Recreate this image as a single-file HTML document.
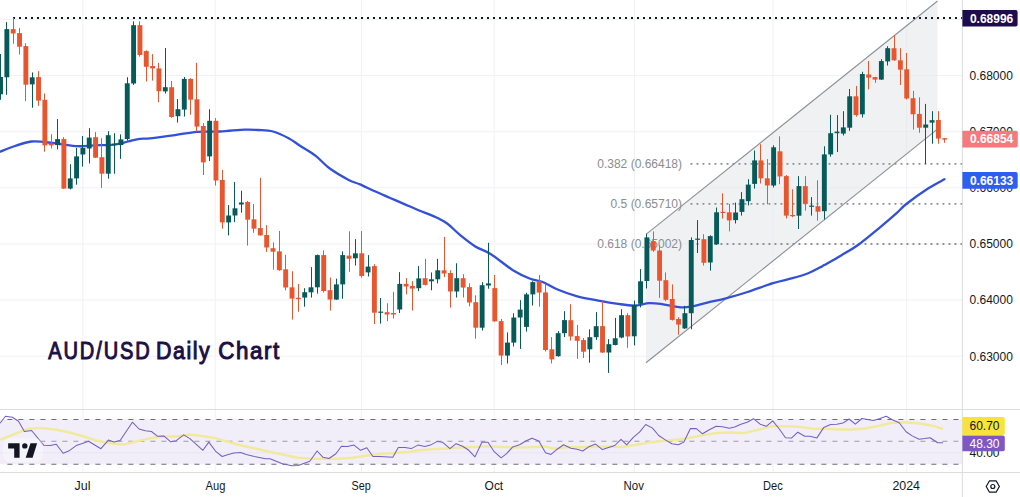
<!DOCTYPE html>
<html><head><meta charset="utf-8"><style>html,body{margin:0;padding:0;background:#fff;}body{width:1020px;height:497px;overflow:hidden;font-family:"Liberation Sans",sans-serif;}svg{display:block;}</style></head><body>
<svg width="1020" height="497" viewBox="0 0 1020 497">
<rect x="0" y="0" width="1020" height="497" fill="#ffffff"/>
<line x1="82.9" y1="0" x2="82.9" y2="472.5" stroke="#f0f1f4" stroke-width="1"/>
<line x1="215.2" y1="0" x2="215.2" y2="472.5" stroke="#f0f1f4" stroke-width="1"/>
<line x1="361.4" y1="0" x2="361.4" y2="472.5" stroke="#f0f1f4" stroke-width="1"/>
<line x1="494.2" y1="0" x2="494.2" y2="472.5" stroke="#f0f1f4" stroke-width="1"/>
<line x1="634.4" y1="0" x2="634.4" y2="472.5" stroke="#f0f1f4" stroke-width="1"/>
<line x1="773.0" y1="0" x2="773.0" y2="472.5" stroke="#f0f1f4" stroke-width="1"/>
<line x1="906.7" y1="0" x2="906.7" y2="472.5" stroke="#f0f1f4" stroke-width="1"/>
<line x1="0" y1="19.48" x2="962.4" y2="19.48" stroke="#f0f1f4" stroke-width="1"/>
<line x1="0" y1="75.60" x2="962.4" y2="75.60" stroke="#f0f1f4" stroke-width="1"/>
<line x1="0" y1="131.72" x2="962.4" y2="131.72" stroke="#f0f1f4" stroke-width="1"/>
<line x1="0" y1="187.84" x2="962.4" y2="187.84" stroke="#f0f1f4" stroke-width="1"/>
<line x1="0" y1="243.96" x2="962.4" y2="243.96" stroke="#f0f1f4" stroke-width="1"/>
<line x1="0" y1="300.08" x2="962.4" y2="300.08" stroke="#f0f1f4" stroke-width="1"/>
<line x1="0" y1="356.20" x2="962.4" y2="356.20" stroke="#f0f1f4" stroke-width="1"/>
<polygon points="646.0,234.40 937.5,1.05 937.5,129.11 646.0,362.72" fill="#e2e4e8" fill-opacity="0.5"/>
<line x1="646.0" y1="234.40" x2="937.5" y2="1.05" stroke="#8c8f96" stroke-width="1.1"/>
<line x1="646.0" y1="362.72" x2="937.5" y2="129.11" stroke="#8c8f96" stroke-width="1.1"/>
<text x="682" y="168.2" font-family="Liberation Sans, sans-serif" font-size="12" fill="#8a8d94" text-anchor="end">0.382 (0.66418)</text>
<text x="682" y="208.2" font-family="Liberation Sans, sans-serif" font-size="12" fill="#8a8d94" text-anchor="end">0.5 (0.65710)</text>
<text x="682" y="248.3" font-family="Liberation Sans, sans-serif" font-size="12" fill="#8a8d94" text-anchor="end">0.618 (0.65002)</text>
<line x1="13.0" y1="18.0" x2="962.4" y2="18.0" stroke="#131722" stroke-width="2.0" stroke-dasharray="2.0 4.0"/>
<line x1="690.5" y1="163.9" x2="962.4" y2="163.9" stroke="#8d9099" stroke-width="1.9" stroke-dasharray="1.9 4.1"/>
<line x1="690.5" y1="203.9" x2="962.4" y2="203.9" stroke="#8d9099" stroke-width="1.9" stroke-dasharray="1.9 4.1"/>
<line x1="690.5" y1="244.0" x2="962.4" y2="244.0" stroke="#8d9099" stroke-width="1.9" stroke-dasharray="1.9 4.1"/>
<path d="M0.00,151.70 C2.50,150.75 9.77,147.70 15.00,146.00 C20.23,144.30 26.57,142.17 31.40,141.50 C36.23,140.83 39.23,141.58 44.00,142.00 C48.77,142.42 54.33,143.30 60.00,144.00 C65.67,144.70 72.33,145.97 78.00,146.20 C83.67,146.43 88.00,145.67 94.00,145.40 C100.00,145.13 108.33,145.25 114.00,144.60 C119.67,143.95 123.67,142.47 128.00,141.50 C132.33,140.53 136.33,139.33 140.00,138.80 C143.67,138.27 144.17,138.92 150.00,138.30 C155.83,137.68 167.17,136.18 175.00,135.10 C182.83,134.02 189.50,132.40 197.00,131.80 C204.50,131.20 212.00,131.87 220.00,131.50 C228.00,131.13 238.67,129.85 245.00,129.60 C251.33,129.35 253.33,129.68 258.00,130.00 C262.67,130.32 267.90,130.13 273.00,131.50 C278.10,132.87 284.10,135.83 288.60,138.20 C293.10,140.57 295.48,142.75 300.00,145.70 C304.52,148.65 310.73,152.10 315.70,155.90 C320.67,159.70 324.30,164.50 329.80,168.50 C335.30,172.50 343.67,177.25 348.70,179.90 C353.73,182.55 355.65,182.50 360.00,184.40 C364.35,186.30 369.87,189.08 374.80,191.30 C379.73,193.52 384.67,195.57 389.60,197.70 C394.53,199.83 399.47,201.97 404.40,204.10 C409.33,206.23 414.27,208.45 419.20,210.50 C424.13,212.55 429.40,214.27 434.00,216.40 C438.60,218.53 442.53,220.27 446.80,223.30 C451.07,226.33 454.85,230.75 459.60,234.60 C464.35,238.45 470.07,243.13 475.30,246.40 C480.53,249.67 484.80,250.28 491.00,254.20 C497.20,258.12 505.97,265.82 512.50,269.90 C519.03,273.98 525.28,276.73 530.20,278.70 C535.12,280.67 537.43,279.90 542.00,281.70 C546.57,283.50 551.72,287.05 557.60,289.50 C563.48,291.95 570.75,294.60 577.30,296.40 C583.85,298.20 590.37,299.10 596.90,300.30 C603.43,301.50 610.30,302.72 616.50,303.60 C622.70,304.48 628.62,305.68 634.10,305.60 C639.58,305.52 644.57,303.32 649.40,303.10 C654.23,302.88 658.20,303.63 663.10,304.30 C668.00,304.97 674.22,306.70 678.80,307.10 C683.38,307.50 685.70,307.48 690.60,306.70 C695.50,305.92 702.32,303.78 708.20,302.40 C714.08,301.02 719.35,300.13 725.90,298.40 C732.45,296.67 739.65,294.55 747.50,292.00 C755.35,289.45 765.50,285.40 773.00,283.10 C780.50,280.80 786.63,279.83 792.50,278.20 C798.37,276.57 803.65,275.08 808.20,273.30 C812.75,271.52 817.13,268.87 819.80,267.50 C822.47,266.13 820.65,267.12 824.20,265.10 C827.75,263.08 835.47,258.75 841.10,255.40 C846.73,252.05 851.57,249.63 858.00,245.00 C864.43,240.37 873.27,232.92 879.70,227.60 C886.13,222.28 892.17,217.03 896.60,213.10 C901.03,209.17 901.07,208.10 906.30,204.00 C911.53,199.90 921.65,192.62 928.00,188.50 C934.35,184.38 941.67,180.83 944.40,179.30" fill="none" stroke="#3350d8" stroke-width="2.3" stroke-linejoin="round" stroke-linecap="round"/>
<rect x="0" y="54.00" width="1" height="45.80" fill="#075a5a"/>
<rect x="-1.93" y="77.00" width="4.9" height="17.30" fill="#075a5a"/>
<rect x="6" y="22.10" width="1" height="72.70" fill="#075a5a"/>
<rect x="4.41" y="29.10" width="4.9" height="48.20" fill="#075a5a"/>
<rect x="13" y="17.80" width="1" height="25.90" fill="#e8562f"/>
<rect x="10.74" y="29.10" width="4.9" height="4.40" fill="#e8562f"/>
<rect x="19" y="27.90" width="1" height="26.70" fill="#e8562f"/>
<rect x="17.08" y="33.10" width="4.9" height="13.60" fill="#e8562f"/>
<rect x="25" y="43.30" width="1" height="57.80" fill="#e8562f"/>
<rect x="23.42" y="46.10" width="4.9" height="38.60" fill="#e8562f"/>
<rect x="32" y="72.40" width="1" height="35.30" fill="#075a5a"/>
<rect x="29.75" y="77.30" width="4.9" height="7.10" fill="#075a5a"/>
<rect x="38" y="71.20" width="1" height="34.60" fill="#e8562f"/>
<rect x="36.09" y="77.10" width="4.9" height="23.50" fill="#e8562f"/>
<rect x="44" y="93.50" width="1" height="58.20" fill="#e8562f"/>
<rect x="42.43" y="99.80" width="4.9" height="45.60" fill="#e8562f"/>
<rect x="51" y="134.20" width="1" height="14.30" fill="#e8562f"/>
<rect x="48.77" y="143.50" width="4.9" height="1.90" fill="#e8562f"/>
<rect x="57" y="119.00" width="1" height="30.30" fill="#075a5a"/>
<rect x="55.10" y="139.10" width="4.9" height="6.00" fill="#075a5a"/>
<rect x="63" y="137.20" width="1" height="51.80" fill="#e8562f"/>
<rect x="61.44" y="139.10" width="4.9" height="49.50" fill="#e8562f"/>
<rect x="70" y="164.20" width="1" height="25.20" fill="#075a5a"/>
<rect x="67.78" y="178.40" width="4.9" height="10.20" fill="#075a5a"/>
<rect x="76" y="147.80" width="1" height="36.90" fill="#075a5a"/>
<rect x="74.11" y="156.40" width="4.9" height="22.00" fill="#075a5a"/>
<rect x="82" y="136.00" width="1" height="30.60" fill="#075a5a"/>
<rect x="80.45" y="147.80" width="4.9" height="6.70" fill="#075a5a"/>
<rect x="89" y="128.10" width="1" height="35.40" fill="#075a5a"/>
<rect x="86.79" y="137.60" width="4.9" height="10.90" fill="#075a5a"/>
<rect x="95" y="132.10" width="1" height="25.90" fill="#e8562f"/>
<rect x="93.12" y="137.20" width="4.9" height="20.50" fill="#e8562f"/>
<rect x="101" y="138.30" width="1" height="49.50" fill="#e8562f"/>
<rect x="99.46" y="157.20" width="4.9" height="16.50" fill="#e8562f"/>
<rect x="108" y="131.30" width="1" height="47.40" fill="#075a5a"/>
<rect x="105.80" y="135.20" width="4.9" height="38.50" fill="#075a5a"/>
<rect x="114" y="133.20" width="1" height="40.50" fill="#075a5a"/>
<rect x="112.14" y="143.80" width="4.9" height="1.30" fill="#075a5a"/>
<rect x="120" y="134.40" width="1" height="24.40" fill="#075a5a"/>
<rect x="118.47" y="139.40" width="4.9" height="5.70" fill="#075a5a"/>
<rect x="127" y="77.20" width="1" height="63.50" fill="#075a5a"/>
<rect x="124.81" y="83.30" width="4.9" height="55.70" fill="#075a5a"/>
<rect x="133" y="21.30" width="1" height="63.60" fill="#075a5a"/>
<rect x="131.15" y="25.20" width="4.9" height="58.30" fill="#075a5a"/>
<rect x="139" y="21.30" width="1" height="35.30" fill="#e8562f"/>
<rect x="137.48" y="25.20" width="4.9" height="29.80" fill="#e8562f"/>
<rect x="146" y="50.30" width="1" height="31.20" fill="#e8562f"/>
<rect x="143.82" y="51.10" width="4.9" height="15.70" fill="#e8562f"/>
<rect x="152" y="54.20" width="1" height="26.40" fill="#e8562f"/>
<rect x="150.16" y="66.00" width="4.9" height="2.40" fill="#e8562f"/>
<rect x="158" y="62.90" width="1" height="39.30" fill="#e8562f"/>
<rect x="156.49" y="68.40" width="4.9" height="22.80" fill="#e8562f"/>
<rect x="165" y="48.00" width="1" height="45.50" fill="#075a5a"/>
<rect x="162.83" y="87.20" width="4.9" height="4.20" fill="#075a5a"/>
<rect x="171" y="80.90" width="1" height="36.90" fill="#e8562f"/>
<rect x="169.17" y="87.20" width="4.9" height="29.80" fill="#e8562f"/>
<rect x="177" y="99.00" width="1" height="23.50" fill="#075a5a"/>
<rect x="175.50" y="109.20" width="4.9" height="7.00" fill="#075a5a"/>
<rect x="184" y="77.00" width="1" height="39.50" fill="#075a5a"/>
<rect x="181.84" y="78.90" width="4.9" height="30.70" fill="#075a5a"/>
<rect x="190" y="78.20" width="1" height="36.50" fill="#e8562f"/>
<rect x="188.18" y="78.90" width="4.9" height="20.80" fill="#e8562f"/>
<rect x="196" y="62.80" width="1" height="69.00" fill="#e8562f"/>
<rect x="194.52" y="99.30" width="4.9" height="27.30" fill="#e8562f"/>
<rect x="203" y="123.10" width="1" height="51.90" fill="#e8562f"/>
<rect x="200.85" y="126.00" width="4.9" height="36.40" fill="#e8562f"/>
<rect x="209" y="109.20" width="1" height="51.90" fill="#075a5a"/>
<rect x="207.19" y="120.80" width="4.9" height="35.60" fill="#075a5a"/>
<rect x="215" y="118.10" width="1" height="67.40" fill="#e8562f"/>
<rect x="213.53" y="120.80" width="4.9" height="59.70" fill="#e8562f"/>
<rect x="222" y="169.90" width="1" height="58.80" fill="#e8562f"/>
<rect x="219.86" y="180.00" width="4.9" height="42.40" fill="#e8562f"/>
<rect x="228" y="205.10" width="1" height="30.30" fill="#075a5a"/>
<rect x="226.20" y="215.50" width="4.9" height="6.90" fill="#075a5a"/>
<rect x="234" y="182.10" width="1" height="40.00" fill="#075a5a"/>
<rect x="232.54" y="208.30" width="4.9" height="7.20" fill="#075a5a"/>
<rect x="241" y="190.70" width="1" height="22.00" fill="#075a5a"/>
<rect x="238.88" y="202.50" width="4.9" height="2.00" fill="#075a5a"/>
<rect x="247" y="200.90" width="1" height="44.70" fill="#e8562f"/>
<rect x="245.21" y="202.00" width="4.9" height="17.70" fill="#e8562f"/>
<rect x="253" y="204.00" width="1" height="28.80" fill="#e8562f"/>
<rect x="251.55" y="219.30" width="4.9" height="9.40" fill="#e8562f"/>
<rect x="260" y="177.80" width="1" height="57.80" fill="#e8562f"/>
<rect x="257.89" y="228.10" width="4.9" height="7.30" fill="#e8562f"/>
<rect x="266" y="225.20" width="1" height="26.70" fill="#e8562f"/>
<rect x="264.22" y="235.00" width="4.9" height="12.50" fill="#e8562f"/>
<rect x="273" y="242.30" width="1" height="27.40" fill="#e8562f"/>
<rect x="270.56" y="248.20" width="4.9" height="3.50" fill="#e8562f"/>
<rect x="279" y="231.00" width="1" height="39.80" fill="#e8562f"/>
<rect x="276.90" y="251.40" width="4.9" height="18.80" fill="#e8562f"/>
<rect x="285" y="254.80" width="1" height="35.60" fill="#e8562f"/>
<rect x="283.23" y="269.30" width="4.9" height="18.20" fill="#e8562f"/>
<rect x="292" y="271.30" width="1" height="48.30" fill="#e8562f"/>
<rect x="289.57" y="287.30" width="4.9" height="11.30" fill="#e8562f"/>
<rect x="298" y="284.00" width="1" height="27.70" fill="#e8562f"/>
<rect x="295.91" y="297.80" width="4.9" height="1.40" fill="#e8562f"/>
<rect x="304" y="288.20" width="1" height="18.50" fill="#075a5a"/>
<rect x="302.25" y="292.20" width="4.9" height="5.40" fill="#075a5a"/>
<rect x="311" y="267.10" width="1" height="30.50" fill="#075a5a"/>
<rect x="308.58" y="287.30" width="4.9" height="5.00" fill="#075a5a"/>
<rect x="317" y="254.50" width="1" height="39.10" fill="#075a5a"/>
<rect x="314.92" y="255.10" width="4.9" height="32.20" fill="#075a5a"/>
<rect x="323" y="250.40" width="1" height="42.20" fill="#e8562f"/>
<rect x="321.26" y="255.10" width="4.9" height="35.90" fill="#e8562f"/>
<rect x="330" y="277.60" width="1" height="33.00" fill="#e8562f"/>
<rect x="327.59" y="290.20" width="4.9" height="9.40" fill="#e8562f"/>
<rect x="336" y="278.70" width="1" height="21.10" fill="#075a5a"/>
<rect x="333.93" y="284.40" width="4.9" height="15.20" fill="#075a5a"/>
<rect x="342" y="251.40" width="1" height="47.30" fill="#075a5a"/>
<rect x="340.27" y="255.10" width="4.9" height="29.30" fill="#075a5a"/>
<rect x="349" y="231.30" width="1" height="40.50" fill="#e8562f"/>
<rect x="346.60" y="255.60" width="4.9" height="3.20" fill="#e8562f"/>
<rect x="355" y="239.10" width="1" height="26.40" fill="#075a5a"/>
<rect x="352.94" y="253.30" width="4.9" height="5.00" fill="#075a5a"/>
<rect x="361" y="231.00" width="1" height="46.60" fill="#e8562f"/>
<rect x="359.28" y="253.30" width="4.9" height="22.70" fill="#e8562f"/>
<rect x="368" y="255.10" width="1" height="21.40" fill="#075a5a"/>
<rect x="365.61" y="266.60" width="4.9" height="5.80" fill="#075a5a"/>
<rect x="374" y="264.20" width="1" height="59.80" fill="#e8562f"/>
<rect x="371.95" y="266.10" width="4.9" height="46.60" fill="#e8562f"/>
<rect x="380" y="298.00" width="1" height="25.60" fill="#075a5a"/>
<rect x="378.29" y="311.60" width="4.9" height="1.20" fill="#075a5a"/>
<rect x="387" y="303.20" width="1" height="17.90" fill="#e8562f"/>
<rect x="384.63" y="312.20" width="4.9" height="2.30" fill="#e8562f"/>
<rect x="393" y="291.80" width="1" height="26.70" fill="#e8562f"/>
<rect x="390.96" y="313.00" width="4.9" height="1.50" fill="#e8562f"/>
<rect x="399" y="272.10" width="1" height="40.90" fill="#075a5a"/>
<rect x="397.30" y="283.90" width="4.9" height="25.60" fill="#075a5a"/>
<rect x="406" y="278.10" width="1" height="16.20" fill="#e8562f"/>
<rect x="403.64" y="283.90" width="4.9" height="2.60" fill="#e8562f"/>
<rect x="412" y="281.20" width="1" height="29.40" fill="#e8562f"/>
<rect x="409.97" y="286.00" width="4.9" height="2.60" fill="#e8562f"/>
<rect x="418" y="266.10" width="1" height="25.00" fill="#075a5a"/>
<rect x="416.31" y="278.40" width="4.9" height="9.80" fill="#075a5a"/>
<rect x="425" y="258.90" width="1" height="26.60" fill="#e8562f"/>
<rect x="422.65" y="278.20" width="4.9" height="6.70" fill="#e8562f"/>
<rect x="431" y="272.40" width="1" height="17.90" fill="#075a5a"/>
<rect x="428.98" y="279.30" width="4.9" height="2.00" fill="#075a5a"/>
<rect x="437" y="258.90" width="1" height="24.50" fill="#075a5a"/>
<rect x="435.32" y="270.30" width="4.9" height="9.00" fill="#075a5a"/>
<rect x="444" y="236.90" width="1" height="40.20" fill="#e8562f"/>
<rect x="441.66" y="270.30" width="4.9" height="3.20" fill="#e8562f"/>
<rect x="450" y="270.30" width="1" height="37.30" fill="#e8562f"/>
<rect x="448.00" y="273.00" width="4.9" height="18.50" fill="#e8562f"/>
<rect x="456" y="263.30" width="1" height="34.20" fill="#075a5a"/>
<rect x="454.33" y="278.20" width="4.9" height="13.30" fill="#075a5a"/>
<rect x="463" y="274.20" width="1" height="23.30" fill="#e8562f"/>
<rect x="460.67" y="278.20" width="4.9" height="9.40" fill="#e8562f"/>
<rect x="469" y="283.40" width="1" height="23.00" fill="#e8562f"/>
<rect x="467.01" y="287.10" width="4.9" height="15.40" fill="#e8562f"/>
<rect x="475" y="295.30" width="1" height="43.40" fill="#e8562f"/>
<rect x="473.34" y="302.20" width="4.9" height="25.50" fill="#e8562f"/>
<rect x="482" y="282.10" width="1" height="48.40" fill="#075a5a"/>
<rect x="479.68" y="285.20" width="4.9" height="42.50" fill="#075a5a"/>
<rect x="488" y="242.80" width="1" height="45.90" fill="#075a5a"/>
<rect x="486.02" y="283.40" width="4.9" height="2.10" fill="#075a5a"/>
<rect x="494" y="275.00" width="1" height="46.60" fill="#e8562f"/>
<rect x="492.35" y="288.10" width="4.9" height="33.30" fill="#e8562f"/>
<rect x="501" y="319.00" width="1" height="46.00" fill="#e8562f"/>
<rect x="498.69" y="321.10" width="4.9" height="34.50" fill="#e8562f"/>
<rect x="507" y="332.40" width="1" height="31.10" fill="#075a5a"/>
<rect x="505.03" y="342.60" width="4.9" height="13.00" fill="#075a5a"/>
<rect x="513" y="313.20" width="1" height="33.30" fill="#075a5a"/>
<rect x="511.37" y="317.50" width="4.9" height="25.10" fill="#075a5a"/>
<rect x="520" y="300.20" width="1" height="48.70" fill="#075a5a"/>
<rect x="517.70" y="309.60" width="4.9" height="7.90" fill="#075a5a"/>
<rect x="526" y="292.80" width="1" height="38.80" fill="#075a5a"/>
<rect x="524.04" y="294.40" width="4.9" height="32.50" fill="#075a5a"/>
<rect x="532" y="281.30" width="1" height="24.20" fill="#075a5a"/>
<rect x="530.38" y="282.10" width="4.9" height="12.30" fill="#075a5a"/>
<rect x="539" y="275.00" width="1" height="31.70" fill="#e8562f"/>
<rect x="536.71" y="281.30" width="4.9" height="11.30" fill="#e8562f"/>
<rect x="545" y="283.70" width="1" height="67.80" fill="#e8562f"/>
<rect x="543.05" y="292.40" width="4.9" height="57.60" fill="#e8562f"/>
<rect x="551" y="337.10" width="1" height="26.40" fill="#e8562f"/>
<rect x="549.39" y="349.30" width="4.9" height="10.10" fill="#e8562f"/>
<rect x="558" y="331.10" width="1" height="25.60" fill="#075a5a"/>
<rect x="555.72" y="333.20" width="4.9" height="23.00" fill="#075a5a"/>
<rect x="564" y="311.20" width="1" height="25.90" fill="#075a5a"/>
<rect x="562.06" y="320.10" width="4.9" height="13.10" fill="#075a5a"/>
<rect x="570" y="304.20" width="1" height="36.40" fill="#e8562f"/>
<rect x="568.40" y="320.20" width="4.9" height="16.30" fill="#e8562f"/>
<rect x="577" y="324.90" width="1" height="33.90" fill="#e8562f"/>
<rect x="574.74" y="336.10" width="4.9" height="4.70" fill="#e8562f"/>
<rect x="583" y="338.00" width="1" height="20.00" fill="#e8562f"/>
<rect x="581.07" y="340.10" width="4.9" height="11.60" fill="#e8562f"/>
<rect x="589" y="329.30" width="1" height="33.40" fill="#075a5a"/>
<rect x="587.41" y="337.20" width="4.9" height="12.10" fill="#075a5a"/>
<rect x="596" y="312.10" width="1" height="27.80" fill="#075a5a"/>
<rect x="593.75" y="326.20" width="4.9" height="11.00" fill="#075a5a"/>
<rect x="602" y="301.10" width="1" height="51.90" fill="#e8562f"/>
<rect x="600.08" y="326.10" width="4.9" height="26.40" fill="#e8562f"/>
<rect x="608" y="339.10" width="1" height="33.80" fill="#075a5a"/>
<rect x="606.42" y="344.20" width="4.9" height="8.30" fill="#075a5a"/>
<rect x="615" y="317.90" width="1" height="27.50" fill="#075a5a"/>
<rect x="612.76" y="338.30" width="4.9" height="6.70" fill="#075a5a"/>
<rect x="621" y="309.20" width="1" height="29.10" fill="#075a5a"/>
<rect x="619.09" y="315.20" width="4.9" height="22.30" fill="#075a5a"/>
<rect x="627" y="313.20" width="1" height="34.60" fill="#e8562f"/>
<rect x="625.43" y="315.20" width="4.9" height="21.30" fill="#e8562f"/>
<rect x="634" y="300.60" width="1" height="44.80" fill="#075a5a"/>
<rect x="631.77" y="304.90" width="4.9" height="31.40" fill="#075a5a"/>
<rect x="640" y="269.10" width="1" height="38.30" fill="#075a5a"/>
<rect x="638.11" y="281.30" width="4.9" height="22.50" fill="#075a5a"/>
<rect x="646" y="233.80" width="1" height="54.70" fill="#075a5a"/>
<rect x="644.44" y="237.40" width="4.9" height="43.60" fill="#075a5a"/>
<rect x="653" y="231.40" width="1" height="20.40" fill="#e8562f"/>
<rect x="650.78" y="241.10" width="4.9" height="9.40" fill="#e8562f"/>
<rect x="659" y="245.50" width="1" height="52.40" fill="#e8562f"/>
<rect x="657.12" y="250.50" width="4.9" height="30.20" fill="#e8562f"/>
<rect x="665" y="272.40" width="1" height="28.70" fill="#e8562f"/>
<rect x="663.45" y="280.20" width="4.9" height="19.60" fill="#e8562f"/>
<rect x="672" y="284.40" width="1" height="36.10" fill="#e8562f"/>
<rect x="669.79" y="299.00" width="4.9" height="20.90" fill="#e8562f"/>
<rect x="678" y="317.10" width="1" height="17.60" fill="#e8562f"/>
<rect x="676.13" y="319.00" width="4.9" height="5.60" fill="#e8562f"/>
<rect x="684" y="305.80" width="1" height="23.10" fill="#075a5a"/>
<rect x="682.46" y="313.20" width="4.9" height="15.20" fill="#075a5a"/>
<rect x="691" y="237.40" width="1" height="91.90" fill="#075a5a"/>
<rect x="688.80" y="240.00" width="4.9" height="73.20" fill="#075a5a"/>
<rect x="697" y="220.10" width="1" height="32.90" fill="#075a5a"/>
<rect x="695.14" y="238.60" width="4.9" height="1.20" fill="#075a5a"/>
<rect x="703" y="234.20" width="1" height="31.40" fill="#e8562f"/>
<rect x="701.48" y="239.20" width="4.9" height="23.60" fill="#e8562f"/>
<rect x="710" y="235.30" width="1" height="35.30" fill="#075a5a"/>
<rect x="707.81" y="236.10" width="4.9" height="26.40" fill="#075a5a"/>
<rect x="716" y="207.50" width="1" height="37.50" fill="#075a5a"/>
<rect x="714.15" y="212.30" width="4.9" height="32.00" fill="#075a5a"/>
<rect x="722" y="193.40" width="1" height="25.20" fill="#e8562f"/>
<rect x="720.49" y="211.80" width="4.9" height="1.20" fill="#e8562f"/>
<rect x="729" y="203.90" width="1" height="27.50" fill="#e8562f"/>
<rect x="726.82" y="212.30" width="4.9" height="8.10" fill="#e8562f"/>
<rect x="735" y="202.60" width="1" height="20.90" fill="#075a5a"/>
<rect x="733.16" y="212.50" width="4.9" height="7.60" fill="#075a5a"/>
<rect x="741" y="192.10" width="1" height="23.50" fill="#075a5a"/>
<rect x="739.50" y="199.20" width="4.9" height="12.70" fill="#075a5a"/>
<rect x="748" y="179.20" width="1" height="26.20" fill="#075a5a"/>
<rect x="745.83" y="184.60" width="4.9" height="16.60" fill="#075a5a"/>
<rect x="754" y="150.50" width="1" height="38.10" fill="#075a5a"/>
<rect x="752.17" y="160.40" width="4.9" height="23.50" fill="#075a5a"/>
<rect x="760" y="144.20" width="1" height="39.30" fill="#e8562f"/>
<rect x="758.51" y="160.40" width="4.9" height="17.90" fill="#e8562f"/>
<rect x="767" y="159.10" width="1" height="45.20" fill="#e8562f"/>
<rect x="764.85" y="178.30" width="4.9" height="7.20" fill="#e8562f"/>
<rect x="773" y="145.30" width="1" height="42.10" fill="#075a5a"/>
<rect x="771.18" y="147.30" width="4.9" height="38.20" fill="#075a5a"/>
<rect x="779" y="136.30" width="1" height="47.90" fill="#e8562f"/>
<rect x="777.52" y="151.30" width="4.9" height="25.10" fill="#e8562f"/>
<rect x="786" y="175.10" width="1" height="43.40" fill="#e8562f"/>
<rect x="783.86" y="176.10" width="4.9" height="39.50" fill="#e8562f"/>
<rect x="792" y="189.30" width="1" height="27.90" fill="#e8562f"/>
<rect x="790.19" y="215.00" width="4.9" height="1.20" fill="#e8562f"/>
<rect x="798" y="176.10" width="1" height="52.90" fill="#075a5a"/>
<rect x="796.53" y="186.10" width="4.9" height="29.60" fill="#075a5a"/>
<rect x="805" y="176.10" width="1" height="34.50" fill="#e8562f"/>
<rect x="802.87" y="186.10" width="4.9" height="17.80" fill="#e8562f"/>
<rect x="811" y="197.10" width="1" height="18.50" fill="#075a5a"/>
<rect x="809.20" y="205.60" width="4.9" height="1.20" fill="#075a5a"/>
<rect x="817" y="180.30" width="1" height="40.40" fill="#e8562f"/>
<rect x="815.54" y="206.20" width="4.9" height="5.50" fill="#e8562f"/>
<rect x="824" y="146.30" width="1" height="73.30" fill="#075a5a"/>
<rect x="821.88" y="154.40" width="4.9" height="56.80" fill="#075a5a"/>
<rect x="830" y="114.80" width="1" height="41.90" fill="#075a5a"/>
<rect x="828.22" y="133.20" width="4.9" height="21.20" fill="#075a5a"/>
<rect x="837" y="115.10" width="1" height="36.90" fill="#075a5a"/>
<rect x="834.55" y="131.60" width="4.9" height="1.60" fill="#075a5a"/>
<rect x="843" y="111.20" width="1" height="24.30" fill="#075a5a"/>
<rect x="840.89" y="127.40" width="4.9" height="6.20" fill="#075a5a"/>
<rect x="849" y="89.00" width="1" height="41.80" fill="#075a5a"/>
<rect x="847.23" y="96.30" width="4.9" height="31.40" fill="#075a5a"/>
<rect x="856" y="85.90" width="1" height="30.80" fill="#e8562f"/>
<rect x="853.56" y="96.30" width="4.9" height="18.80" fill="#e8562f"/>
<rect x="862" y="71.80" width="1" height="45.70" fill="#075a5a"/>
<rect x="859.90" y="74.00" width="4.9" height="40.30" fill="#075a5a"/>
<rect x="868" y="61.10" width="1" height="28.30" fill="#e8562f"/>
<rect x="866.24" y="74.50" width="4.9" height="3.10" fill="#e8562f"/>
<rect x="875" y="76.80" width="1" height="6.00" fill="#e8562f"/>
<rect x="872.57" y="77.10" width="4.9" height="2.50" fill="#e8562f"/>
<rect x="881" y="59.20" width="1" height="20.70" fill="#075a5a"/>
<rect x="878.91" y="61.10" width="4.9" height="18.50" fill="#075a5a"/>
<rect x="887" y="46.20" width="1" height="19.30" fill="#075a5a"/>
<rect x="885.25" y="48.20" width="4.9" height="13.20" fill="#075a5a"/>
<rect x="894" y="35.20" width="1" height="25.60" fill="#e8562f"/>
<rect x="891.59" y="48.20" width="4.9" height="12.10" fill="#e8562f"/>
<rect x="900" y="48.20" width="1" height="36.80" fill="#e8562f"/>
<rect x="897.92" y="60.30" width="4.9" height="9.40" fill="#e8562f"/>
<rect x="906" y="53.00" width="1" height="46.50" fill="#e8562f"/>
<rect x="904.26" y="69.30" width="4.9" height="29.20" fill="#e8562f"/>
<rect x="913" y="90.90" width="1" height="38.70" fill="#e8562f"/>
<rect x="910.60" y="98.20" width="4.9" height="16.10" fill="#e8562f"/>
<rect x="919" y="97.30" width="1" height="35.50" fill="#e8562f"/>
<rect x="916.93" y="113.90" width="4.9" height="13.80" fill="#e8562f"/>
<rect x="925" y="103.90" width="1" height="60.10" fill="#075a5a"/>
<rect x="923.27" y="124.50" width="4.9" height="3.20" fill="#075a5a"/>
<rect x="932" y="111.20" width="1" height="32.50" fill="#075a5a"/>
<rect x="929.61" y="120.20" width="4.9" height="2.40" fill="#075a5a"/>
<rect x="938" y="111.20" width="1" height="32.50" fill="#e8562f"/>
<rect x="935.94" y="120.00" width="4.9" height="18.60" fill="#e8562f"/>
<rect x="944" y="138.00" width="1" height="4.80" fill="#e8562f"/>
<rect x="942.28" y="138.20" width="4.9" height="1.40" fill="#e8562f"/>
<text transform="translate(48.3,358.8) scale(0.86,1)" x="0" y="0" font-family="Liberation Sans, sans-serif" font-size="23.3" font-weight="normal" fill="#1c0f45" stroke="#1c0f45" stroke-width="1.0" textLength="117.9" lengthAdjust="spacing">AUD/USD</text>
<text transform="translate(156.1,358.8) scale(0.92,1)" x="0" y="0" font-family="Liberation Sans, sans-serif" font-size="23.3" font-weight="normal" fill="#1c0f45" stroke="#1c0f45" stroke-width="1.0" textLength="58.3" lengthAdjust="spacing">Daily</text>
<text transform="translate(218.2,358.8) scale(0.96,1)" x="0" y="0" font-family="Liberation Sans, sans-serif" font-size="23.3" font-weight="normal" fill="#1c0f45" stroke="#1c0f45" stroke-width="1.0" textLength="63.6" lengthAdjust="spacing">Chart</text>
<rect x="0" y="419.4" width="962.4" height="44.9" fill="#f1eefa"/>
<line x1="0" y1="452.8" x2="962.4" y2="452.8" stroke="#e9e6f2" stroke-width="1"/>
<line x1="7.4" y1="419.4" x2="962.4" y2="419.4" stroke="#6b6e78" stroke-width="1.05" stroke-dasharray="5 6"/>
<line x1="40.4" y1="441.3" x2="962.4" y2="441.3" stroke="#9a9ca5" stroke-width="1.05" stroke-dasharray="5 6"/>
<line x1="7.4" y1="464.3" x2="962.4" y2="464.3" stroke="#6b6e78" stroke-width="1.05" stroke-dasharray="5 6"/>
<polyline points="0.0,439.8 13.7,434.3 27.4,428.8 41.2,428.1 54.9,429.5 68.6,432.3 82.3,436.0 96.1,440.5 109.8,443.2 123.5,444.6 135.0,441.8 148.7,438.6 162.4,436.6 176.2,436.6 189.9,434.5 203.6,436.3 214.6,437.9 231.1,442.7 244.8,446.2 258.5,449.2 274.9,453.0 283.7,454.7 297.5,457.8 311.2,458.8 324.9,458.8 338.6,458.8 352.3,457.8 366.1,455.8 379.8,454.1 393.5,453.0 409.9,451.7 418.7,450.3 432.4,449.2 446.2,448.6 459.9,447.5 473.6,446.9 487.3,446.2 501.1,446.9 514.8,447.5 528.5,447.3 544.9,446.4 553.7,448.6 567.4,447.3 581.2,447.3 594.9,446.9 608.6,446.4 622.3,446.9 636.1,444.8 649.8,442.3 663.5,441.0 679.9,439.3 688.7,437.9 702.5,435.2 716.2,433.1 729.9,432.4 743.6,433.1 757.3,430.0 771.1,426.3 784.8,426.3 798.5,426.7 814.9,429.0 823.7,428.6 837.4,429.4 851.2,429.4 864.9,428.6 878.6,425.9 892.3,422.8 906.1,422.2 919.8,423.5 933.5,425.9 943.1,429.0" fill="none" stroke="#f1ea9c" stroke-width="2.5" stroke-linejoin="round"/>
<polyline points="0.0,423.3 5.5,416.2 12.4,417.2 18.5,421.3 24.4,431.6 31.6,430.5 43.9,445.3 50.1,445.6 56.3,444.2 63.1,453.3 68.6,451.1 76.2,445.6 82.3,443.6 88.5,441.2 100.9,448.7 108.4,440.1 113.9,441.9 120.1,440.5 132.4,422.2 139.1,429.0 145.3,430.8 151.5,431.5 157.6,436.3 163.8,435.9 170.7,441.8 176.2,440.7 183.7,434.9 189.9,438.6 202.9,450.3 208.8,442.1 216.0,451.7 222.2,456.5 228.3,454.4 233.8,453.0 240.7,452.4 246.2,454.4 254.4,456.5 265.4,458.8 270.0,458.8 282.4,463.7 292.0,465.7 298.1,465.4 309.8,461.3 317.1,451.0 322.8,457.2 329.0,458.5 335.9,453.7 341.4,446.2 347.5,446.4 354.0,445.1 360.6,450.3 366.8,447.8 372.9,456.5 379.8,456.5 392.8,457.2 398.3,447.5 405.0,447.5 411.2,448.6 418.0,445.1 424.9,446.4 430.4,445.1 437.3,441.4 442.7,442.3 450.0,448.6 456.1,443.7 462.6,446.2 468.8,450.3 475.0,456.9 481.9,442.3 488.0,442.3 494.2,451.7 501.1,457.8 506.6,453.7 512.7,446.9 519.6,444.8 525.8,441.0 532.0,438.2 538.8,441.0 545.5,452.8 551.0,454.4 557.2,449.2 563.6,444.8 570.9,448.2 577.1,449.2 582.8,451.0 589.4,446.4 595.6,444.1 602.4,449.6 608.6,447.5 614.8,445.5 621.0,439.3 626.7,444.8 633.3,437.3 639.5,432.2 645.7,424.5 652.5,428.1 658.7,435.5 664.9,439.6 671.8,443.7 678.4,444.8 683.9,442.1 690.4,428.6 696.3,428.6 702.5,433.8 709.3,429.7 716.2,426.3 722.4,426.7 729.2,428.3 734.7,427.0 740.9,424.2 747.1,422.2 753.5,418.7 760.1,424.2 766.3,426.3 772.7,420.8 779.3,429.0 785.5,437.7 791.7,437.9 797.8,432.2 804.7,436.3 810.0,436.3 816.9,437.9 823.7,427.6 830.6,424.5 836.8,424.2 842.9,423.1 849.1,419.0 855.3,424.2 861.9,418.5 867.6,419.4 873.4,420.4 880.0,418.5 886.2,416.3 892.3,419.8 899.2,422.8 906.1,431.8 912.2,435.9 919.1,439.3 924.6,438.6 930.1,437.7 937.6,442.7 943.1,442.7" fill="none" stroke="#7460bf" stroke-width="1.05" stroke-linejoin="round"/>
<rect x="3" y="438" width="40" height="24" rx="8" fill="#ffffff" fill-opacity="0.3"/>
<g fill="#131722"><path d="M8.15,443.2 H19.6 V457.8 H14.2 V448.6 H8.15 Z"/><circle cx="24.8" cy="445.9" r="2.7"/><path d="M30.5,443.2 H37.1 L32.6,457.8 H25.7 Z"/></g>
<line x1="0" y1="409.5" x2="1020" y2="409.5" stroke="#dcdde1" stroke-width="1"/>
<line x1="0" y1="472.5" x2="1020" y2="472.5" stroke="#dcdde1" stroke-width="1"/>
<line x1="962.4" y1="0" x2="962.4" y2="497" stroke="#dcdde1" stroke-width="1"/>
<text x="969.5" y="79.9" font-family="Liberation Sans, sans-serif" font-size="12" fill="#131722">0.68000</text>
<text x="969.5" y="136.0" font-family="Liberation Sans, sans-serif" font-size="12" fill="#131722">0.67000</text>
<text x="969.5" y="192.1" font-family="Liberation Sans, sans-serif" font-size="12" fill="#131722">0.66000</text>
<text x="969.5" y="248.3" font-family="Liberation Sans, sans-serif" font-size="12" fill="#131722">0.65000</text>
<text x="969.5" y="304.4" font-family="Liberation Sans, sans-serif" font-size="12" fill="#131722">0.64000</text>
<text x="969.5" y="360.5" font-family="Liberation Sans, sans-serif" font-size="12" fill="#131722">0.63000</text>
<path d="M962.4,10.1 H1015.6 Q1017.6,10.1 1017.6,12.1 V24.6 Q1017.6,26.6 1015.6,26.6 H962.4 Z" fill="#1f0c4f"/>
<text x="969.9" y="22.7" font-family="Liberation Sans, sans-serif" font-size="12" font-weight="bold" fill="#ffffff">0.68996</text>
<path d="M962.4,130.7 H1015.8 Q1017.8,130.7 1017.8,132.7 V145.6 Q1017.8,147.6 1015.8,147.6 H962.4 Z" fill="#f7787d"/>
<text x="969.9" y="143.4" font-family="Liberation Sans, sans-serif" font-size="12" font-weight="bold" fill="#ffffff">0.66854</text>
<path d="M962.4,172.1 H1015.7 Q1017.7,172.1 1017.7,174.1 V186.8 Q1017.7,188.8 1015.7,188.8 H962.4 Z" fill="#2c5ff0"/>
<text x="969.9" y="184.8" font-family="Liberation Sans, sans-serif" font-size="12" font-weight="bold" fill="#ffffff">0.66133</text>
<text x="969.5" y="457.1" font-family="Liberation Sans, sans-serif" font-size="12" fill="#131722">40.00</text>
<path d="M962.4,417.0 H1002.8 Q1004.8,417.0 1004.8,419.0 V433.0 Q1004.8,435.0 1002.8,435.0 H962.4 Z" fill="#f9e23c"/>
<text x="969.5" y="430.3" font-family="Liberation Sans, sans-serif" font-size="12" font-weight="normal" fill="#131722">60.70</text>
<path d="M962.4,435.6 H1002.8 Q1004.8,435.6 1004.8,437.6 V449.3 Q1004.8,451.3 1002.8,451.3 H962.4 Z" fill="#7e57c2"/>
<text x="969.5" y="447.8" font-family="Liberation Sans, sans-serif" font-size="12" font-weight="normal" fill="#ffffff">48.30</text>
<text x="74.5" y="490" font-family="Liberation Sans, sans-serif" font-size="12" fill="#131722" textLength="15.9" lengthAdjust="spacingAndGlyphs">Jul</text>
<text x="205.6" y="490" font-family="Liberation Sans, sans-serif" font-size="12" fill="#131722" textLength="19.8" lengthAdjust="spacingAndGlyphs">Aug</text>
<text x="351.6" y="490" font-family="Liberation Sans, sans-serif" font-size="12" fill="#131722" textLength="19.2" lengthAdjust="spacingAndGlyphs">Sep</text>
<text x="484.6" y="490" font-family="Liberation Sans, sans-serif" font-size="12" fill="#131722" textLength="18.6" lengthAdjust="spacingAndGlyphs">Oct</text>
<text x="623.6" y="490" font-family="Liberation Sans, sans-serif" font-size="12" fill="#131722" textLength="20.3" lengthAdjust="spacingAndGlyphs">Nov</text>
<text x="763.1" y="490" font-family="Liberation Sans, sans-serif" font-size="12" fill="#131722" textLength="19.7" lengthAdjust="spacingAndGlyphs">Dec</text>
<text x="892.4" y="490" font-family="Liberation Sans, sans-serif" font-size="12" fill="#131722" textLength="27.6" lengthAdjust="spacingAndGlyphs">2024</text>
<polygon points="999.40,486.50 996.10,492.22 989.50,492.22 986.20,486.50 989.50,480.78 996.10,480.78" fill="none" stroke="#131722" stroke-width="1.2" stroke-linejoin="round"/>
<circle cx="992.8" cy="486.5" r="2" fill="none" stroke="#131722" stroke-width="1.2"/>
</svg>
</body></html>
